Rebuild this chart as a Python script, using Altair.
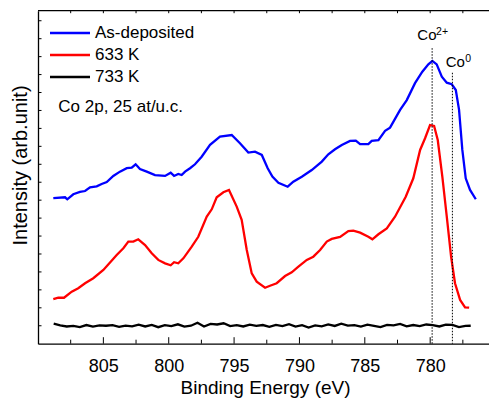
import altair as alt
import pandas as pd

# ---------------- data ----------------
series_names = ["As-deposited", "633 K", "733 K"]
series_colors = ["#0000ff", "#ff0000", "#000000"]

blue_E = [808.83, 807.93, 807.76, 807.30, 806.79, 806.40, 806.02, 805.51, 805.13, 804.74,
          804.24, 803.73, 803.21, 802.83, 802.53, 802.20, 801.68, 801.05, 800.28, 799.85,
          799.59, 799.27, 799.01, 798.75, 798.37, 797.99, 797.48, 796.84, 796.08, 795.18,
          794.55, 793.91, 793.40, 792.88, 792.43, 792.07, 791.61, 790.90, 790.47, 789.82,
          789.06, 788.29, 787.79, 787.28, 786.76, 786.13, 785.69, 785.36, 784.73, 784.47,
          783.96, 783.45, 783.07, 782.30, 781.79, 781.16, 780.60, 780.14, 779.83, 779.50,
          779.11, 778.73, 778.35, 778.04, 777.79, 777.54, 777.28, 776.95, 776.51]
blue_I = [8.11, 8.16, 8.05, 8.33, 8.46, 8.51, 8.72, 8.77, 8.90, 9.01,
          9.35, 9.59, 9.78, 9.81, 10.00, 9.74, 9.59, 9.40, 9.35, 9.53,
          9.35, 9.46, 9.40, 9.59, 9.78, 10.00, 10.42, 11.08, 11.54, 11.63,
          11.17, 10.65, 10.70, 10.52, 9.78, 9.31, 8.97, 8.75, 9.03, 9.31,
          9.68, 10.15, 10.56, 10.84, 11.08, 11.30, 11.32, 11.12, 11.12, 11.30,
          11.35, 11.86, 12.04, 13.03, 13.58, 14.52, 15.16, 15.57, 15.76, 15.57,
          14.88, 14.55, 14.46, 14.14, 13.03, 10.80, 9.22, 8.57, 8.05]

red_E = [808.83, 808.45, 808.01, 807.42, 806.92, 806.40, 805.77, 805.00, 804.49, 803.98,
         803.47, 803.09, 802.71, 802.33, 801.81, 801.30, 800.80, 800.28, 799.85, 799.59,
         799.27, 798.88, 798.24, 797.74, 797.09, 796.71, 796.33, 795.82, 795.39, 794.80,
         794.42, 794.03, 793.65, 793.27, 792.63, 792.25, 791.74, 791.10, 790.59, 790.08,
         789.44, 788.94, 788.42, 787.91, 787.53, 786.89, 786.26, 785.88, 785.36, 784.73,
         784.42, 783.96, 783.32, 782.69, 781.87, 781.29, 780.77, 780.39, 780.01, 779.70,
         779.42, 779.07, 778.73, 778.40, 778.10, 777.71, 777.33, 777.02]
red_I = [2.48, 2.56, 2.56, 2.90, 3.09, 3.37, 3.65, 4.11, 4.52, 4.94,
         5.32, 5.69, 5.69, 5.82, 5.50, 5.04, 4.67, 4.48, 4.37, 4.54,
         4.48, 4.76, 5.41, 5.96, 7.08, 7.49, 8.16, 8.44, 8.57, 7.64,
         6.90, 5.22, 3.92, 3.46, 3.12, 3.23, 3.37, 3.77, 3.98, 4.29,
         4.67, 4.85, 5.22, 5.69, 5.84, 5.95, 6.28, 6.30, 6.19, 5.96,
         5.82, 6.10, 6.43, 7.08, 8.19, 9.22, 10.80, 11.45, 12.19, 12.14,
         11.35, 9.31, 7.08, 4.85, 3.37, 2.44, 2.03, 2.01]

black_E = [808.8, 808.3, 807.8, 807.3, 806.8, 806.3, 805.8, 805.3, 804.8, 804.3,
           803.8, 803.3, 802.8, 802.3, 801.8, 801.3, 800.8, 800.3, 799.8, 799.3,
           798.8, 798.3, 797.8, 797.3, 796.8, 796.3, 795.8, 795.3, 794.8, 794.3,
           793.8, 793.3, 792.8, 792.3, 791.8, 791.3, 790.8, 790.3, 789.8, 789.3,
           788.8, 788.3, 787.8, 787.3, 786.8, 786.3, 785.8, 785.3, 784.8, 784.3,
           783.8, 783.3, 782.8, 782.3, 781.8, 781.3, 780.8, 780.3, 779.8, 779.3,
           778.8, 778.3, 777.8, 777.3, 776.9]
black_I = [1.12, 1.02, 0.96, 0.99, 0.93, 1.04, 0.95, 1.02, 1.00, 1.03,
           0.94, 1.01, 0.97, 1.06, 0.96, 1.05, 0.92, 1.03, 0.98, 1.08,
           0.95, 1.00, 1.17, 0.96, 1.10, 1.07, 1.14, 0.98, 1.03, 0.96,
           1.06, 0.99, 1.04, 0.94, 1.05, 0.98, 1.09, 0.95, 1.03, 0.90,
           1.02, 0.97, 1.08, 0.99, 1.12, 1.01, 1.04, 0.95, 1.06, 1.00,
           0.93, 1.05, 1.02, 1.10, 0.97, 1.04, 0.98, 1.07, 1.03, 0.96,
           1.06, 1.05, 0.93, 0.99, 1.00]

x_label_ticks = [805, 800, 795, 790, 785, 780]
x_minor_ticks = [807.5, 802.5, 797.5, 792.5, 787.5, 782.5, 777.5]
x_top_ticks = [807.5, 805, 802.5, 800, 797.5, 795, 792.5, 790, 787.5, 785, 782.5, 780, 777.5]
y_ticks = [1, 2, 3, 4, 5, 6, 7, 8, 9, 10, 11, 12, 13, 14, 15, 16, 17, 18]

ref_E = [779.85, 778.30]
ref_top = [16.47, 15.10]
ref_bottom = [0, 0]

note_text = ["Co 2p, 25 at/u.c."]
note_E = [808.45]
note_I = [12.9]

peak_text = ["Co", "Co"]
peak_E = [780.98, 778.81]
peak_I = [16.93, 15.44]
sup_text = ["2+", "0"]
sup_E = [779.55, 777.32]
sup_I = [17.21, 15.72]

# ---------------- chart ----------------
W, H = 451, 333
FONT = "Liberation Sans"

lines_df = pd.concat([
    pd.DataFrame({"series": series_names[0], "E": blue_E, "I": blue_I}),
    pd.DataFrame({"series": series_names[1], "E": red_E, "I": red_I}),
    pd.DataFrame({"series": series_names[2], "E": black_E, "I": black_I}),
], ignore_index=True)

xscale = alt.Scale(domain=[775.5, 810], reverse=True, nice=False, zero=False)
yscale = alt.Scale(domain=[0, 18.56], nice=False, zero=False)

x_axis = alt.Axis(
    values=x_label_ticks, format="d", ticks=False, tickSize=0, grid=False,
    labelFontSize=18, labelPadding=14, labelColor="black", labelFont=FONT,
    domainColor="black", domainWidth=1.3,
    title="Binding Energy (eV)", titleFontSize=19, titleFontWeight="normal",
    titleFont=FONT, titleColor="black", titleX=227, titleY=50,
    titleBaseline="alphabetic")
y_axis = alt.Axis(
    labels=False, ticks=False, tickSize=0, grid=False,
    domainColor="black", domainWidth=1.3,
    title="Intensity (arb.unit)", titleFontSize=20, titleFontWeight="normal",
    titleFont=FONT, titleColor="black", titleX=-11.3, titleY=154.3,
    titleBaseline="alphabetic", titleAngle=270)


def X(field):
    return alt.X(field, scale=xscale, axis=x_axis)


def Y(field):
    return alt.Y(field, scale=yscale, axis=y_axis)


lines = alt.Chart(lines_df).mark_line(strokeWidth=2.3, clip=True).encode(
    x=X("E:Q"),
    y=Y("I:Q"),
    color=alt.Color("series:N", scale=alt.Scale(domain=series_names, range=series_colors),
                    legend=alt.Legend(title=None, orient="none", legendX=10.5, legendY=11.55,
                                      padding=0, clipHeight=21.5, rowPadding=0,
                                      symbolType="stroke", symbolSize=1600,
                                      symbolStrokeWidth=2.5, labelFontSize=17,
                                      labelOffset=3.5, labelFont=FONT, labelColor="black",
                                      labelLimit=300)),
    order=alt.Order("E:Q"),
)

refs = alt.Chart(pd.DataFrame({"E": ref_E, "I": ref_top, "bottom": ref_bottom})).mark_rule(
    color="black", strokeWidth=1, strokeDash=[1.5, 1.5]).encode(
    x=X("E:Q"),
    y=Y("I:Q"),
    y2="bottom:Q",
)

bottom_major = alt.Chart(pd.DataFrame({"E": x_label_ticks})).mark_rule(
    color="black", strokeWidth=1).encode(
    x=X("E:Q"), y=alt.value(H), y2=alt.value(H - 6.5))
bottom_minor = alt.Chart(pd.DataFrame({"E": x_minor_ticks})).mark_rule(
    color="black", strokeWidth=1).encode(
    x=X("E:Q"), y=alt.value(H), y2=alt.value(H - 4))
top_ticks = alt.Chart(pd.DataFrame({"E": x_top_ticks})).mark_rule(
    color="black", strokeWidth=1).encode(
    x=X("E:Q"), y=alt.value(0), y2=alt.value(2.5))
left_ticks = alt.Chart(pd.DataFrame({"I": y_ticks})).mark_rule(
    color="black", strokeWidth=1).encode(
    y=Y("I:Q"), x=alt.value(0), x2=alt.value(3.5))
top_line = alt.Chart(pd.DataFrame({"a": [0]})).mark_rule(
    color="black", strokeWidth=1.3).encode(
    x=alt.value(0), x2=alt.value(W), y=alt.value(0))

note = alt.Chart(pd.DataFrame({"E": note_E, "I": note_I, "t": note_text})).mark_text(
    align="left", baseline="alphabetic", fontSize=17, font=FONT, color="black").encode(
    x=X("E:Q"), y=Y("I:Q"), text="t:N")
peaks = alt.Chart(pd.DataFrame({"E": peak_E, "I": peak_I, "t": peak_text})).mark_text(
    align="left", baseline="alphabetic", fontSize=15, font=FONT, color="black").encode(
    x=X("E:Q"), y=Y("I:Q"), text="t:N")
sups = alt.Chart(pd.DataFrame({"E": sup_E, "I": sup_I, "t": sup_text})).mark_text(
    align="left", baseline="alphabetic", fontSize=10.5, font=FONT, color="black").encode(
    x=X("E:Q"), y=Y("I:Q"), text="t:N")

chart = alt.layer(
    lines, refs, bottom_major, bottom_minor, top_ticks, left_ticks, top_line, note, peaks, sups
).properties(
    width=W, height=H,
    autosize=alt.AutoSizeParams(type="none"),
    padding={"left": 38, "top": 10.7, "right": 0, "bottom": 54.3},
    background="white",
).configure_view(stroke=None)

chart.save("out.html", embed_options={"renderer": "svg", "actions": False})
